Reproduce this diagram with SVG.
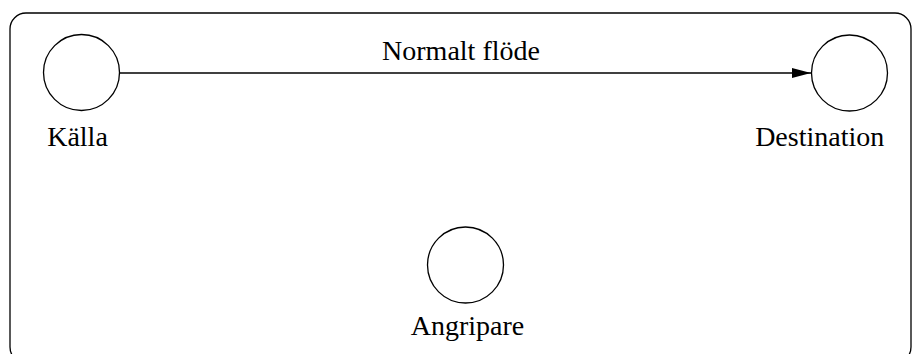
<svg xmlns="http://www.w3.org/2000/svg" width="912" height="354" viewBox="0 0 912 354">
<style>
.node{fill:#fff;stroke:#000;stroke-width:1.3}
.lbl{font-family:'Liberation Serif','Times New Roman','DejaVu Serif',serif;font-size:28px;fill:#000}
.edge{stroke:#000;stroke-width:1.3;fill:none}
</style>
<defs>
<marker id="arr" markerWidth="20" markerHeight="12" refX="19" refY="5" orient="auto" markerUnits="userSpaceOnUse">
<path d="M0,0 L19,5 L0,10 Z" fill="#000"/>
</marker>
</defs>
<rect x="10" y="13" width="901" height="350" rx="16" ry="16" fill="#fff" stroke="#000" stroke-width="1.3"/>
<g id="connectors">
<line class="edge" x1="119.5" y1="73" x2="811" y2="73" marker-end="url(#arr)"/>
<text class="lbl" x="461" y="60" text-anchor="middle">Normalt flöde</text>
</g>
<g id="kalla">
<circle class="node" cx="81.5" cy="72.5" r="38"/>
<text class="lbl" x="77.5" y="146" text-anchor="middle">Källa</text>
</g>
<g id="destination">
<circle class="node" cx="849.5" cy="73" r="38"/>
<text class="lbl" x="819.7" y="146" text-anchor="middle">Destination</text>
</g>
<g id="angripare">
<circle class="node" cx="465.5" cy="265" r="38"/>
<text class="lbl" x="467.5" y="335" text-anchor="middle">Angripare</text>
</g>
</svg>
